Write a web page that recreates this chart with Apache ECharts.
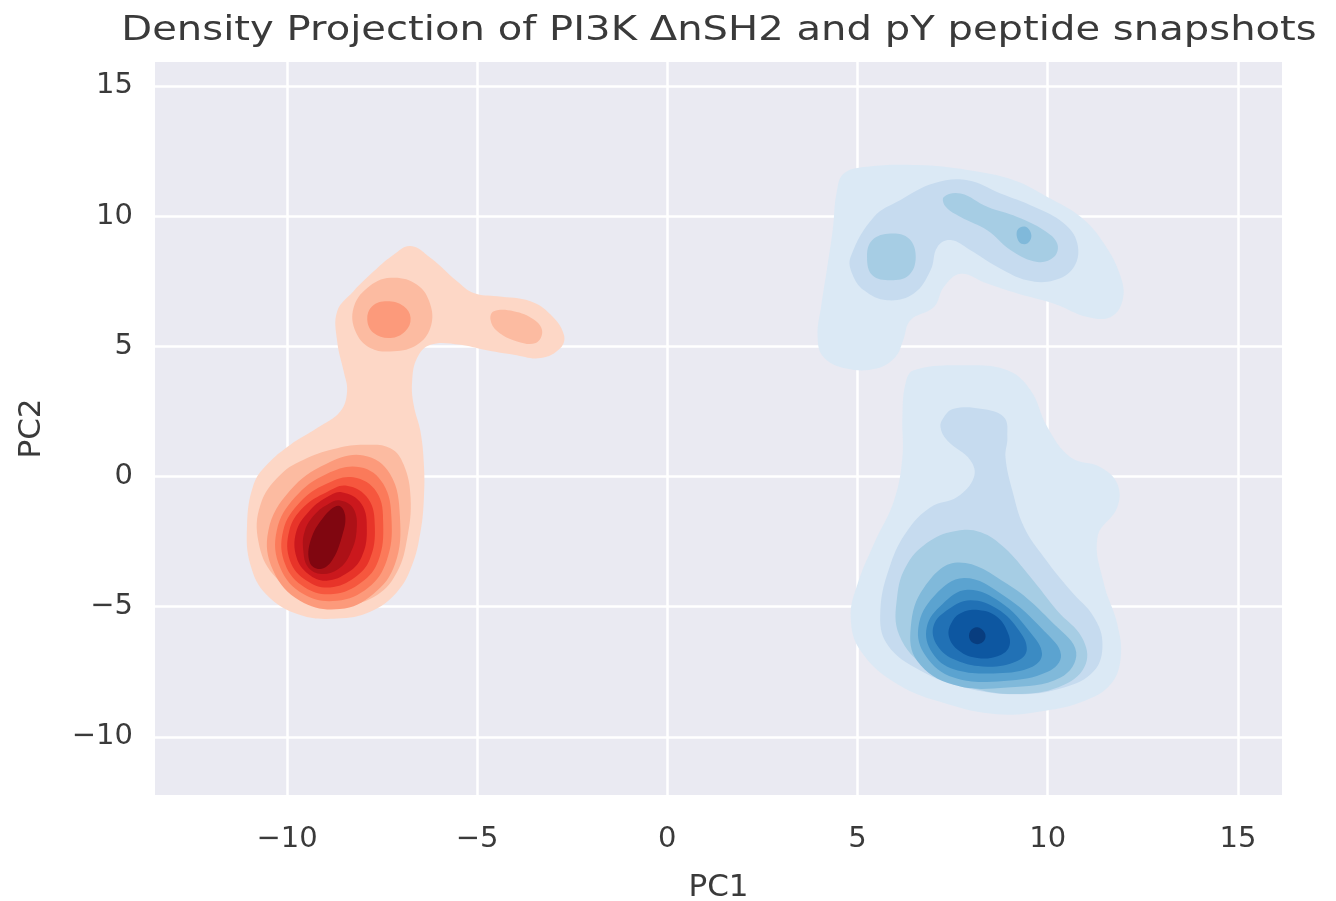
<!DOCTYPE html>
<html>
<head>
<meta charset="utf-8">
<title>Density Projection</title>
<script src="https://cdn.jsdelivr.net/npm/echarts@6/dist/echarts.min.js"></script>
<style>
  html, body { margin: 0; padding: 0; background: #fff; }
  #main { width: 1336px; height: 901px; }
</style>
</head>
<body>
<div id="main"></div>
<script>
  // tick labels
  const xTicks = [-10, -5, 0, 5, 10, 15];
  const yTicks = [-10, -5, 0, 5, 10, 15];

  // band colours, lightest shaded level first (Reds / Blues)
  const redColors = ['#fdd7c6', '#fcbba1', '#fc9a7b', '#fb7a5a', '#f6573e', '#e83429', '#cb181d', '#ad1117', '#800610'];
  const blueColors = ['#dbe9f5', '#c6dbef', '#a6cde4', '#80b9da', '#5ba3d0', '#3b8bc3', '#2171b5', '#0d57a1', '#083d7f'];

  // contour outlines, [PC1, PC2]
  // red (PI3K ΔnSH2)
  const redL1 = [[-6.75, 8.85], [-6.23, 8.4], [-5.53, 7.5], [-5.09, 7.05], [-4.47, 6.92], [-3.6, 6.73], [-3.07, 6.22], [-2.72, 5.45], [-2.81, 4.94], [-3.33, 4.55], [-4.04, 4.68], [-4.82, 4.87], [-5.44, 5.06], [-6.23, 5.06], [-6.58, 4.55], [-6.71, 3.65], [-6.67, 2.76], [-6.49, 1.73], [-6.4, 0.45], [-6.4, -0.83], [-6.49, -2.12], [-6.71, -3.4], [-7.1, -4.42], [-7.81, -5.19], [-8.68, -5.45], [-9.65, -5.32], [-10.53, -4.55], [-10.96, -3.4], [-11.05, -1.86], [-10.88, -0.32], [-10.53, 0.45], [-9.91, 1.22], [-9.21, 1.86], [-8.6, 2.5], [-8.42, 3.27], [-8.51, 4.04], [-8.68, 5.19], [-8.68, 6.35], [-8.25, 7.12], [-7.72, 7.88], [-7.19, 8.53]];
  const redL2a = [[-7.28, 7.63], [-6.58, 7.37], [-6.23, 6.6], [-6.23, 5.71], [-6.58, 5.06], [-7.19, 4.81], [-7.81, 4.94], [-8.2, 5.58], [-8.25, 6.47], [-7.89, 7.24]];
  const redL2b = [[-4.56, 6.35], [-4.04, 6.35], [-3.51, 6.03], [-3.29, 5.58], [-3.46, 5.13], [-3.95, 5.19], [-4.47, 5.58], [-4.65, 6.03]];
  const redL2c = [[-7.98, 1.22], [-7.28, 1.09], [-6.93, 0.45], [-6.75, -0.83], [-6.84, -2.37], [-7.1, -3.65], [-7.63, -4.55], [-8.51, -4.94], [-9.47, -4.68], [-10.35, -3.78], [-10.75, -2.5], [-10.7, -1.09], [-10.18, 0.06], [-9.47, 0.71], [-8.68, 1.09]];
  const redL3a = [[-7.37, 6.73], [-6.93, 6.54], [-6.75, 6.09], [-6.89, 5.58], [-7.28, 5.32], [-7.72, 5.51], [-7.89, 6.03], [-7.76, 6.54]];
  const redL3b = [[-7.99, 0.81], [-7.29, 0.1], [-7.03, -1.56], [-7.16, -3.36], [-7.73, -4.51], [-8.61, -5.09], [-9.66, -4.77], [-10.36, -3.62], [-10.49, -2.08], [-9.92, -0.54], [-8.96, 0.49]];
  const redL4 = [[-8.08, 0.36], [-7.47, -0.28], [-7.25, -1.69], [-7.38, -3.23], [-7.86, -4.26], [-8.69, -4.77], [-9.57, -4.51], [-10.18, -3.49], [-10.27, -2.08], [-9.79, -0.8], [-8.96, 0.1]];
  const redL5 = [[-8.26, -0.03], [-7.64, -0.6], [-7.47, -1.82], [-7.6, -3.23], [-8.04, -4.06], [-8.78, -4.51], [-9.53, -4.26], [-10.05, -3.36], [-10.1, -2.08], [-9.66, -0.99], [-8.96, -0.28]];
  const redL6 = [[-8.43, -0.35], [-7.86, -0.86], [-7.69, -1.95], [-7.82, -3.17], [-8.21, -3.87], [-8.87, -4.26], [-9.48, -4.0], [-9.92, -3.23], [-9.94, -2.08], [-9.57, -1.18], [-8.96, -0.6]];
  const redL7 = [[-8.56, -0.6], [-8.04, -1.05], [-7.9, -2.08], [-8.04, -3.1], [-8.39, -3.68], [-8.96, -4.0], [-9.44, -3.74], [-9.75, -3.1], [-9.76, -2.14], [-9.44, -1.37], [-8.96, -0.8]];
  const redL8 = [[-8.6, -0.92], [-8.25, -1.24], [-8.17, -2.08], [-8.34, -2.97], [-8.65, -3.55], [-9.09, -3.74], [-9.44, -3.49], [-9.57, -2.85], [-9.53, -2.08], [-9.26, -1.44], [-8.91, -1.05]];
  const redL9 = [[-8.65, -1.12], [-8.47, -1.5], [-8.56, -2.33], [-8.82, -3.23], [-9.13, -3.55], [-9.4, -3.3], [-9.38, -2.46], [-9.04, -1.56]];

  // blue (pY peptide)
  const blueL1a = [[4.64, 11.64], [5.25, 11.9], [6.57, 11.96], [7.89, 11.77], [9.11, 11.38], [9.99, 10.74], [10.87, 9.97], [11.48, 8.95], [11.92, 7.67], [11.97, 6.77], [11.66, 6.13], [11.04, 6.13], [10.17, 6.64], [9.2, 7.03], [8.41, 7.41], [7.71, 7.79], [7.27, 7.28], [7.01, 6.51], [6.39, 6.0], [6.2, 5.23], [6.0, 4.6], [5.5, 4.15], [4.7, 4.15], [4.1, 4.6], [3.95, 5.4], [4.05, 6.6], [4.2, 8.0], [4.35, 9.5], [4.45, 10.9]];
  const blueL1b = [[6.48, 4.08], [7.8, 4.27], [8.94, 4.08], [9.55, 3.31], [9.99, 1.9], [10.6, 0.74], [11.39, 0.36], [11.83, -0.28], [11.83, -1.18], [11.31, -2.33], [11.48, -4.13], [11.83, -5.67], [11.92, -6.95], [11.66, -7.97], [10.96, -8.62], [9.9, -9.0], [8.67, -9.13], [7.36, -8.74], [6.04, -7.97], [5.08, -6.69], [4.82, -5.41], [5.0, -4.13], [5.43, -2.59], [5.96, -0.92], [6.18, 0.74], [6.18, 2.28], [6.26, 3.56]];
  const blueL2a = [[4.82, 8.44], [5.43, 9.97], [6.13, 10.62], [7.01, 11.26], [7.89, 11.38], [8.76, 10.87], [9.64, 10.36], [10.43, 9.72], [10.78, 8.95], [10.69, 8.05], [10.17, 7.54], [9.46, 7.54], [8.68, 8.05], [7.97, 8.69], [7.45, 9.08], [7.1, 8.82], [6.92, 7.92], [6.48, 7.03], [5.78, 6.77], [5.17, 7.15], [4.86, 7.79]];
  const blueL2b = [[7.27, 2.28], [7.53, 2.6], [8.24, 2.6], [8.85, 2.28], [8.94, 1.51], [8.89, 0.74], [9.07, -0.54], [9.38, -1.95], [9.9, -3.1], [10.6, -4.38], [11.22, -5.41], [11.44, -6.44], [11.22, -7.46], [10.43, -8.1], [9.2, -8.36], [7.8, -8.1], [6.66, -7.46], [5.78, -6.44], [5.6, -5.15], [5.87, -3.36], [6.31, -2.08], [6.92, -1.18], [7.62, -0.79], [8.06, -0.03], [7.97, 0.62], [7.36, 1.38], [7.18, 1.9]];
  const blueL3a = [[5.25, 8.44], [5.39, 9.08], [5.87, 9.33], [6.35, 9.14], [6.53, 8.44], [6.35, 7.73], [5.87, 7.54], [5.39, 7.73]];
  const blueL3b = [[7.27, 10.74], [7.71, 10.87], [8.41, 10.36], [9.2, 9.97], [9.9, 9.46], [10.25, 8.95], [10.17, 8.44], [9.73, 8.24], [9.03, 8.69], [8.41, 9.46], [7.71, 9.97], [7.32, 10.36]];
  const blueL3c = [[7.62, -2.08], [8.24, -2.14], [8.85, -2.72], [9.55, -3.87], [10.25, -5.15], [10.9, -6.18], [11.0, -7.2], [10.43, -8.0], [9.29, -8.35], [7.97, -8.1], [6.83, -7.35], [6.1, -6.1], [6.04, -4.64], [6.31, -3.36], [6.92, -2.46]];
  const blueL4a = [[9.2, 9.46], [9.42, 9.59], [9.57, 9.27], [9.46, 8.95], [9.25, 9.01]];
  const blueL4b = [[7.62, -3.3], [8.94, -4.13], [10.17, -5.67], [10.75, -6.75], [10.34, -7.72], [8.94, -8.1], [7.53, -8.0], [6.57, -7.08], [6.4, -5.79], [6.75, -4.26]];
  const blueL5 = [[7.8, -3.9], [8.85, -4.58], [9.9, -5.92], [10.35, -6.85], [10.0, -7.5], [8.85, -7.85], [7.53, -7.72], [6.79, -6.88], [6.6, -5.79], [7.01, -4.6]];
  const blueL6 = [[7.89, -4.35], [8.76, -4.83], [9.55, -6.0], [9.85, -6.8], [9.6, -7.3], [8.68, -7.55], [7.53, -7.4], [6.96, -6.76], [6.82, -5.79], [7.23, -4.9]];
  const blueL7 = [[7.97, -4.75], [8.68, -5.09], [9.25, -5.92], [9.45, -6.65], [9.2, -7.08], [8.41, -7.3], [7.58, -7.05], [7.1, -6.5], [7.0, -5.73], [7.4, -5.09]];
  const blueL8 = [[8.11, -5.12], [8.63, -5.35], [8.95, -5.99], [8.98, -6.56], [8.68, -6.9], [8.15, -6.97], [7.67, -6.69], [7.4, -6.12], [7.5, -5.54], [7.75, -5.22]];
  const blueL9 = [[8.15, -5.79], [8.34, -5.99], [8.34, -6.28], [8.15, -6.44], [7.96, -6.28], [7.96, -5.95]];

  // paint order: outer levels first
  const contours = [
    [redL1, redColors[0]], [redL2a, redColors[1]], [redL2b, redColors[1]], [redL2c, redColors[1]],
    [redL3a, redColors[2]], [redL3b, redColors[2]], [redL4, redColors[3]], [redL5, redColors[4]],
    [redL6, redColors[5]], [redL7, redColors[6]], [redL8, redColors[7]], [redL9, redColors[8]],
    [blueL1a, blueColors[0]], [blueL1b, blueColors[0]], [blueL2a, blueColors[1]], [blueL2b, blueColors[1]],
    [blueL3a, blueColors[2]], [blueL3b, blueColors[2]], [blueL3c, blueColors[2]],
    [blueL4a, blueColors[3]], [blueL4b, blueColors[3]], [blueL5, blueColors[4]], [blueL6, blueColors[5]],
    [blueL7, blueColors[6]], [blueL8, blueColors[7]], [blueL9, blueColors[8]]
  ];

  const textColor = '#3a3a3a';
  const chart = echarts.init(document.getElementById('main'));

  const option = {
    backgroundColor: '#ffffff',
    animation: false,
    // title as graphic text so it can be stretched like the original's wide lettering
    graphic: [{
      type: 'text',
      x: 719,
      y: 31,
      scaleX: 1.18,
      silent: true,
      style: {
        text: 'Density Projection of PI3K ΔnSH2 and pY peptide snapshots',
        align: 'center',
        verticalAlign: 'middle',
        fontFamily: 'DejaVu Sans',
        fontSize: 34,
        fill: textColor
      }
    }],
    grid: {
      left: 155,
      right: 54,
      top: 62,
      bottom: 106,
      outerBoundsMode: 'none',
      show: true,
      backgroundColor: '#eaeaf2',
      borderWidth: 0
    },
    xAxis: {
      type: 'value',
      min: -13.47,
      max: 16.16,
      name: 'PC1',
      nameLocation: 'middle',
      nameGap: 77,
      nameTextStyle: { fontFamily: 'DejaVu Sans', fontSize: 31, color: textColor },
      axisLine: { show: false },
      axisTick: { show: false, customValues: xTicks },
      axisLabel: {
        customValues: xTicks,
        margin: 30,
        fontFamily: 'DejaVu Sans',
        fontSize: 29,
        color: textColor,
        formatter: v => String(v).replace('-', '\u2212')
      },
      splitLine: { show: true, lineStyle: { color: '#ffffff', width: 2.5 } }
    },
    yAxis: {
      type: 'value',
      min: -12.23,
      max: 15.92,
      name: 'PC2',
      nameLocation: 'middle',
      nameGap: 108,
      nameTextStyle: { fontFamily: 'DejaVu Sans', fontSize: 31, color: textColor },
      axisLine: { show: false },
      axisTick: { show: false, customValues: yTicks },
      axisLabel: {
        customValues: yTicks,
        margin: 22,
        fontFamily: 'DejaVu Sans',
        fontSize: 29,
        color: textColor,
        formatter: v => String(v).replace('-', '\u2212')
      },
      splitLine: { show: true, lineStyle: { color: '#ffffff', width: 2.5 } }
    },
    series: [{
      type: 'custom',
      silent: true,
      clip: true,
      data: contours.map((c, i) => [i]),
      encode: { x: -1, y: -1 },
      renderItem: function (params, api) {
        const c = contours[params.dataIndex];
        const pts = c[0].map(p => api.coord(p));
        return {
          type: 'polygon',
          shape: { points: pts, smooth: 0.4 },
          style: { fill: c[1], stroke: null }
        };
      }
    }]
  };

  chart.setOption(option);
</script>
</body>
</html>
